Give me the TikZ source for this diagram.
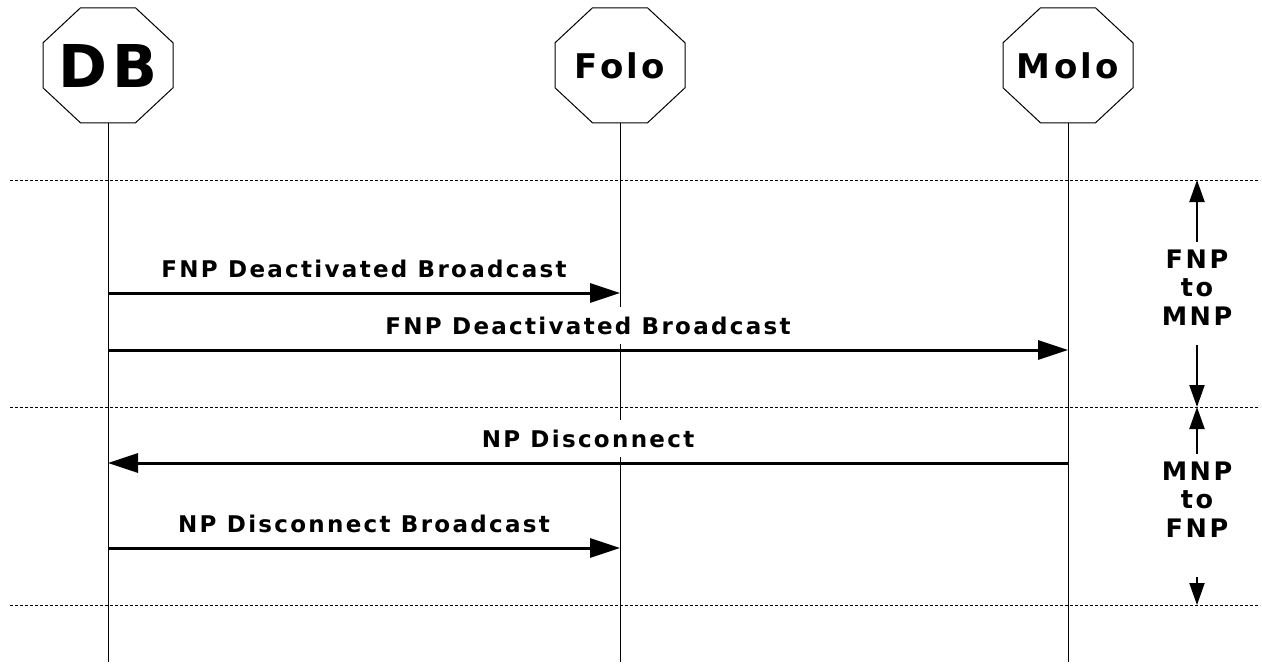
\documentclass[tikz,border=0pt]{standalone}
\usepackage{fontspec}
\setmainfont{DejaVu Sans}[LetterSpace=10]
\usetikzlibrary{arrows.meta}

\begin{document}
\begin{tikzpicture}[x=1pt, y=-1pt,
  head/.style = {minimum width=130pt, minimum height=115pt, inner sep=0pt},
  life/.style = {line width=1pt},
  sep/.style = {line width=1pt, dash pattern=on 3pt off 2pt},
  msg/.style = {line width=3pt, -{Triangle[length=30pt,width=19pt]}},
  msglabel/.style = {fill=white, anchor=base, yshift=16pt, inner xsep=4pt, inner ysep=10pt, font=\bfseries\fontsize{23}{25}\selectfont},
  phase/.style = {align=center, inner sep=8pt, font=\bfseries\fontsize{25.5}{28.5}\selectfont},
  phasearrow/.style = {line width=2pt, -{Triangle[length=22pt,width=15pt]}}]
	\useasboundingbox (0,0) rectangle (1262,664);

	\node[head, font=\bfseries\fontsize{59}{60}\selectfont] (db) at (108,65.5) {DB};
	\node[head, font=\bfseries\fontsize{34}{36}\selectfont] (folo) at (620,65.5) {Folo};
	\node[head, font=\bfseries\fontsize{34}{36}\selectfont] (molo) at (1068,65.5) {Molo};

	\foreach \n in {db,folo,molo}
		\draw[life] (\n.north) ++(-27.5,0) -- ++(55,0) -- ++(37.5,35) -- ++(0,45) -- ++(-37.5,35) -- ++(-55,0) -- ++(-37.5,-35) -- ++(0,-45) -- cycle;

	\coordinate (dbend) at (108,662);
	\coordinate (foloend) at (620,662);
	\coordinate (moloend) at (1068,662);

	\draw[life] (db) -- (dbend);
	\draw[life] (folo) -- (foloend);
	\draw[life] (molo) -- (moloend);

	\draw[sep] (10,180) -- (1260,180);
	\draw[sep] (10,407) -- (1260,407);
	\draw[sep] (10,605) -- (1260,605);

	\coordinate (db1) at (108,293);
	\coordinate (folo1) at (620,293);
	\coordinate (db2) at (108,350);
	\coordinate (molo2) at (1068,350);
	\coordinate (molo3) at (1068,463);
	\coordinate (db3) at (108,463);
	\coordinate (db4) at (108,548);
	\coordinate (folo4) at (620,548);

	\draw[msg] (db1) -- (folo1) node[msglabel, midway] {FNP Deactivated Broadcast};
	\draw[msg] (db2) -- (molo2) node[msglabel, midway] {FNP Deactivated Broadcast};
	\draw[msg] (molo3) -- (db3) node[msglabel, midway] {NP Disconnect};
	\draw[msg] (db4) -- (folo4) node[msglabel, midway] {NP Disconnect Broadcast};

	\node[phase] (ph1) at (1197,287.5) {FNP\\to\\MNP};
	\coordinate (ph1top) at (1197,180);
	\coordinate (ph1bot) at (1197,407);
	\draw[phasearrow] (ph1) -- (ph1top);
	\draw[phasearrow, shorten <=12pt] (ph1) -- (ph1bot);

	\node[phase] (ph2) at (1197,499.5) {MNP\\to\\FNP};
	\coordinate (ph2top) at (1197,407);
	\coordinate (ph2bot) at (1197,605);
	\draw[phasearrow] (ph2) -- (ph2top);
	\draw[phasearrow, shorten <=31pt] (ph2) -- (ph2bot);
\end{tikzpicture}
\end{document}
